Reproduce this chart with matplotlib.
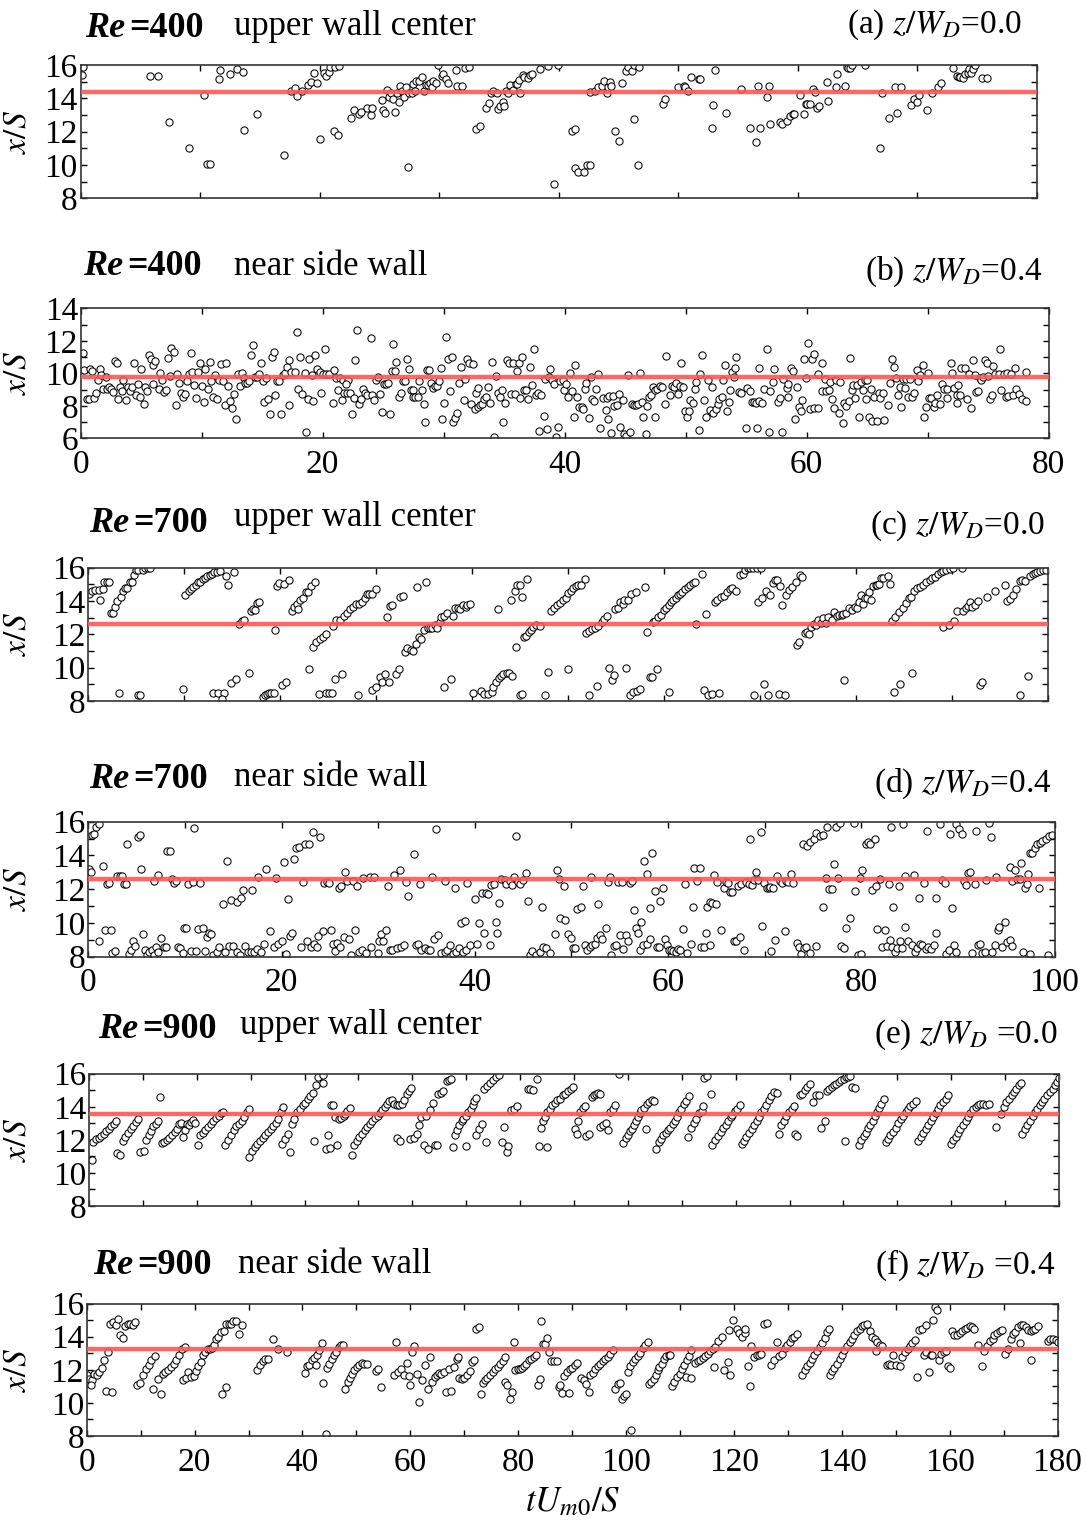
import numpy as np
import matplotlib.pyplot as plt
from matplotlib.ticker import MultipleLocator

plt.rcParams['font.family'] = ['Liberation Serif', 'DejaVu Serif']
plt.rcParams['mathtext.fontset'] = 'stix'

# reattachment position samples: (tU_m0/S, x/S)
pts_a = [(0.1,15.4),(0.2,15.86),(5.8,15.36),(6.45,15.36),(7.37,12.58),(9.1,11.04),(10.3,14.2),(10.6,10.04),(10.8,10.04),(11.55,15.14),(11.7,15.68),(12.5,15.44),(13.1,15.76),(13.6,15.6),(13.7,12.12),(14.8,13.04),(17.0,10.58),(17.6,14.42),(17.9,14.62),(18.1,14.12),(18.55,14.44),(19.0,14.82),(19.3,14.96),(19.5,15.52),(19.8,14.9),(20.05,11.58),(20.4,15.52),(20.5,15.36),(20.75,15.56),(20.9,15.88),(21.3,15.88),(21.6,15.92),(21.2,12.06),(21.5,11.8),(22.6,12.8),(22.9,13.28),(23.3,13.06),(23.5,13.2),(24.0,13.42),(24.3,12.98),(24.4,13.42),
         (25.2,13.88),(25.3,13.28),(25.5,13.12),(25.65,14.52),(25.8,14.06),(26.0,14.34),(26.1,13.94),(26.3,13.2),(26.5,14.34),(26.6,13.8),(26.75,14.74),(26.9,14.44),(27.05,14.1),(27.2,14.68),(27.35,9.86),(27.45,14.3),(27.7,14.34),(27.83,14.84),(28.0,14.44),(28.1,15.06),(28.3,15.06),(28.6,15.3),(28.75,14.46),(28.9,14.8),(29.1,14.82),(29.2,14.9),(29.4,14.68),(29.5,15.06),(29.7,14.9),(29.9,16.0),(30.2,15.36),(30.35,15.44),(30.6,15.14),(30.75,14.9),(31.4,15.68),(31.5,14.76),(31.9,14.76),(32.15,15.84),(32.5,15.9),
         (33.1,12.18),(33.4,12.34),(33.9,13.44),(34.2,13.74),(34.3,14.3),(34.5,14.44),(34.8,14.3),(34.95,13.34),(35.1,13.54),(35.3,13.8),(35.4,13.52),(35.6,14.46),(35.75,14.3),(35.9,14.82),(36.2,14.5),(36.4,14.86),(36.5,14.88),(36.7,15.1),(36.8,14.32),(37.0,15.4),(37.1,15.3),(37.4,15.2),(37.6,15.4),(37.75,15.46),(38.4,15.76),(39.1,15.96),(39.95,16.0),(39.6,8.86),(41.1,12.02),(41.35,12.18),(41.4,9.8),(41.6,9.56),
         (42.1,9.56),(42.4,10.02),(42.6,10.02),(42.65,14.36),(43.0,14.44),(43.3,14.66),(43.6,14.76),(43.8,15.06),(44.0,14.3),(44.1,14.7),(44.3,14.98),(44.4,14.76),(44.7,12.04),(45.0,11.42),(45.3,14.9),(45.6,15.62),(45.8,15.9),(46.1,15.66),(46.3,16.0),(46.7,15.86),(46.3,12.74),(46.6,10.02),(48.7,13.66),(48.9,13.98),(50.0,14.68),(50.45,14.76),(50.6,14.68),(50.8,14.44),(51.1,15.3),(51.7,15.14),(51.85,15.14),(52.8,12.2),(52.9,13.6),(53.1,15.68),(54.0,13.14),(55.25,14.54),(56.0,12.2),(56.5,11.36),(56.8,12.2),(56.65,14.76),(57.6,14.76),(57.4,14.06),(57.7,12.44),
         (58.5,12.6),(58.65,12.48),(59.1,12.66),(59.3,12.96),(59.6,13.08),(59.7,13.06),(60.2,14.22),(60.5,13.06),(60.7,13.66),(60.8,13.66),(61.0,13.66),(61.3,14.54),(61.4,14.36),(61.6,13.42),(61.75,13.52),(62.4,14.98),(62.5,13.82),(63.2,14.68),(63.3,15.44),(63.9,14.76),(64.1,15.9),(64.2,15.84),(64.4,15.84),(64.5,16.0),(65.6,16.0),(66.9,11.04),(67.0,14.3),(67.65,12.82),(68.1,14.68),(68.3,13.12),(68.6,14.68),(69.5,13.58),(69.7,13.98),(70.0,13.8),(70.1,14.22),(70.8,13.28),(71.2,14.3),(71.7,14.68),(72.0,14.9),
         (73.0,15.8),(73.3,15.36),(73.45,15.3),(73.6,15.26),(73.8,15.2),(74.0,15.44),(74.2,15.5),(74.3,15.76),(74.5,15.5),(74.65,15.76),(74.8,16.0),(75.4,15.22),(75.8,15.22)]

pts_b = [(0.17,11.27),(0.3,10.18),(0.5,8.42),(0.7,8.42),(0.77,10.28),(0.96,10.14),(1.1,8.48),(1.27,8.8),(1.4,9.57),(1.57,10.28),(1.7,9.92),(2.07,9.8),(1.87,9.04),(2.18,9.04),(2.37,9.18),(2.5,9.04),(2.67,8.85),(2.87,10.78),(3.0,10.62),(3.1,8.42),(3.25,9.18),(3.4,8.9),(3.5,9.59),(3.77,8.36),(3.9,9.18),(4.08,8.9),(4.2,9.18),(4.4,10.62),(4.57,8.67),(4.74,9.34),(4.88,8.56),(5.0,10.25),(5.2,8.11),(5.35,9.18),(5.5,8.93),(5.62,11.13),(5.8,10.88),(5.98,10.51),(6.14,10.78),(5.98,9.34),(6.44,9.02),(6.58,10.04),(6.72,9.59),(6.9,8.87),(7.05,8.97),(7.2,10.96),(7.35,9.86),(7.5,11.58),(7.69,11.33),(7.85,8.03),(8.0,9.94),(8.15,9.43),(8.3,8.77),(8.46,8.52),(8.6,8.7),(8.8,9.51),(8.93,9.94),(9.1,11.27),(9.23,10.06),(9.4,9.26),(9.56,8.5),(9.7,10.06),(9.85,10.62),(10.0,9.2),(10.17,8.26),(10.3,10.27),(10.5,9.06),(10.66,10.7),(10.8,9.51),(10.94,8.52),(11.13,9.9),(11.27,8.44),(11.43,9.59),(11.6,10.6),(11.76,9.55),(11.9,8.03),(12.04,10.66),(12.2,9.22),(12.34,8.32),(12.5,7.89),(12.7,8.73),(12.86,7.19),(13.0,9.96),(13.17,9.2),(13.33,10.04),(13.47,9.7),(13.6,9.38),(13.75,9.43),(13.9,9.53),(14.08,11.13),(14.27,11.74),(14.4,9.8),(14.57,9.8),(14.74,9.98),(14.88,10.66),(15.04,9.55),(15.18,8.26),(15.5,8.42),(15.34,9.71),(15.65,7.5),(15.8,11.03),(15.98,11.33),(16.1,8.64),(16.25,9.55),(16.4,9.55),(16.58,7.5),(16.75,9.9),(16.9,10.04),(17.05,10.39),(17.25,10.8),(17.4,10.1),(17.7,10.1),(17.25,8.03),(17.85,12.52),(18.0,9.02),(18.3,8.7),(18.76,8.42),(18.15,11.03),(18.5,10.04),(18.6,6.4),(18.9,10.86),(19.2,8.28),(19.4,11.13),(19.1,9.88),(19.56,10.25),(19.75,10.06),(20.05,9.98),(20.3,9.98),(20.5,9.98),(19.9,8.81),(20.2,11.5),
         (20.83,8.2),(20.97,10.18),(21.1,9.73),(21.4,9.73),(21.7,9.59),(22.1,9.59),(21.3,8.97),(21.6,8.34),(21.76,8.81),(22.0,8.81),(22.26,8.81),(21.9,9.34),(22.4,7.5),(22.56,8.5),(22.7,10.8),(22.87,12.67),(23.0,8.11),(23.17,8.42),(23.33,9.02),(23.5,8.81),(23.65,8.67),(24.0,12.2),(24.1,8.67),(24.27,8.34),(24.44,9.59),(24.6,9.8),(24.74,8.73),(24.9,7.64),(25.57,7.5),(25.04,9.34),(25.2,9.34),(25.37,9.43),(25.7,10.16),(26.0,10.16),(25.84,11.8),(26.03,10.72),(26.34,8.52),(26.5,8.77),(26.64,9.53),(26.8,9.53),(26.94,10.88),(27.1,10.27),(27.27,8.97),(27.44,8.97),(27.5,8.52),(27.66,8.52),(27.85,8.52),(28.0,9.55),(28.24,8.97),(28.4,8.11),(28.5,7.03),(28.65,10.18),(28.8,10.18),(28.95,9.43),(29.1,9.08),(29.28,9.22),(29.45,9.22),(29.6,9.53),(29.75,10.33),(29.9,7.19),(30.05,8.2),(30.2,12.24),(30.36,10.86),(30.67,11.03),(30.5,8.9),(30.8,7.03),(30.96,7.27),(31.1,7.56),(31.3,9.43),(31.46,10.39),(31.76,9.65),(31.65,8.36),(31.93,10.86),(32.1,10.62),(32.23,8.11),(32.4,10.57),(32.56,7.78),(32.84,7.95),(32.97,8.03),(33.2,8.13),(33.33,8.44),(33.47,8.56),(32.7,8.81),(32.87,9.1),(33.7,9.18),(33.86,8.2),(34.0,10.7),(34.16,6.1),(34.3,9.86),(34.5,8.77),(34.66,8.52),(34.8,8.97),(34.93,7.03),(35.1,8.2),(35.26,10.8),(35.43,10.62),(35.73,10.62),(35.56,8.73),(35.9,8.73),(36.03,10.16),(36.2,10.62),(36.5,11.03),(36.34,8.5),(36.67,8.97),(36.83,8.97),(37.0,8.42),(37.16,10.39),(37.3,9.26),(37.44,11.5),(37.6,8.64),(37.77,8.81),(38.07,8.64),(37.9,6.47),(38.26,7.4),(38.37,9.65),(38.57,6.6),(38.68,9.78),(38.8,10.24),(38.98,9.59),(39.15,9.34),(39.3,6.1),(39.45,6.72),(39.6,9.51),(39.9,9.59),(39.97,8.97),(40.14,9.34),(40.3,8.52),(40.44,10.04),(40.63,8.92),(40.77,7.33),(40.88,10.51),(41.0,8.56),(41.16,7.95),
         (41.4,7.95),(41.54,7.78),(41.7,9.02),(41.8,9.43),(42.0,7.23),(42.15,9.8),(42.3,8.42),(42.45,8.32),(42.6,9.02),(42.75,9.96),(42.95,6.66),(43.2,8.5),(43.4,7.74),(43.5,8.5),(43.55,7.21),(43.7,8.62),(44.0,8.62),(43.85,6.31),(44.1,7.99),(44.3,8.07),(44.46,8.7),(44.6,6.72),(44.8,8.34),(44.95,6.25),(45.1,6.14),(45.4,6.41),(45.26,9.9),(45.6,8.11),(45.7,8.07),(45.9,8.03),(46.06,8.11),(46.2,10.04),(46.36,8.22),(46.5,7.33),(46.7,6.25),(46.8,7.99),(46.94,8.52),(47.13,8.69),(47.3,9.18),(47.45,8.97),(47.65,9.02),(47.85,9.22),(48.05,9.18),(47.5,7.33),(48.26,8.11),(48.4,11.07),(48.7,8.64),(48.9,9.22),(49.06,9.16),(49.2,9.38),(49.36,8.73),(49.5,9.22),(49.8,9.18),(49.64,10.66),(49.94,7.68),(50.1,7.33),(50.27,7.68),(50.4,8.36),(50.6,8.2),(50.74,9.02),(50.9,9.47),(51.2,9.94),(51.07,6.51),(51.37,11.13),(51.5,8.36),(51.7,7.33),(51.84,9.59),(52.0,7.74),(52.15,9.14),(52.3,7.54),(52.48,7.78),(52.65,8.13),(52.8,8.4),(53.0,8.52),(53.1,9.59),(53.25,10.51),(53.4,7.68),(53.55,8.26),(53.7,8.97),(53.85,10.1),(54.05,10.33),(54.2,11.03),(54.0,9.75),(54.4,8.85),(54.6,8.77),(55.0,6.66),(55.1,9.08),(55.3,8.93),(55.5,8.22),(55.64,8.26),(55.86,8.16),(56.1,8.32),(56.3,8.16),(55.9,6.66),(56.1,10.33),(56.5,9.02),(57.0,8.93),(57.24,9.49),(56.7,11.5),(56.86,6.41),(57.3,10.25),(57.6,8.22),(57.8,8.48),(57.96,6.41),(58.07,9.63),(58.37,9.08),(58.5,9.34),(58.7,10.31),(58.84,10.14),(58.5,8.56),(59.06,7.19),(59.2,9.18),(59.36,7.95),(59.5,7.7),(59.66,8.36),(59.8,10.88),(59.94,9.7),(60.1,11.85),(60.46,10.88),(60.63,11.19),(60.3,7.8),(60.63,7.84),(60.93,7.84),(60.93,9.96),(61.26,10.66),(61.26,8.93),(61.6,8.93),(61.87,8.97),(61.54,9.63),(61.93,9.49),(62.1,8.4),(62.25,7.84),(62.45,9.59),(62.7,7.54),(62.8,9.49),(63.0,6.92),(63.1,8.2),(63.3,7.99),(63.47,8.28),(63.6,10.96),
         (63.75,8.97),(63.88,9.28),(64.04,8.5),(64.2,9.28),(64.5,9.49),(64.82,9.59),(65.0,9.59),(64.35,7.33),(64.7,8.97),(64.88,8.44),(65.18,7.33),(65.45,7.09),(65.8,7.09),(66.4,7.13),(65.34,9.02),(65.6,8.52),(65.95,8.81),(66.1,8.5),(66.3,8.81),(66.75,8.03),(66.9,9.38),(67.05,10.9),(67.2,10.41),(67.4,9.7),(67.55,8.64),(67.7,9.18),(67.82,7.95),(68.0,9.63),(68.13,9.1),(68.26,9.63),(68.56,9.63),(68.4,8.56),(68.75,8.56),(68.9,8.81),(69.1,10.2),(69.2,9.53),(69.4,9.9),(69.6,10.49),(69.7,7.33),(69.86,7.95),(70.05,10.04),(70.16,8.5),(70.3,8.46),(70.5,7.91),(70.63,8.15),(70.8,8.67),(71.0,8.11),(71.2,9.34),(71.4,9.02),(71.6,9.02),(71.57,8.5),(71.9,10.66),(72.0,10.04),(72.2,9.12),(72.4,8.67),(72.55,9.26),(72.67,8.67),(72.4,8.2),(72.8,10.33),(73.1,10.33),(73.25,8.4),(73.44,9.94),(73.77,10.82),(73.93,9.92),(73.6,7.87),(74.0,8.87),(74.18,8.93),(74.3,9.7),(74.46,9.59),(74.6,9.75),(74.73,10.82),(75.04,9.84),(74.9,10.66),(75.18,8.4),(75.37,8.64),(75.4,10.45),(75.6,9.96),(75.97,11.5),(75.9,9.96),(76.1,8.97),(76.33,9.96),(76.6,10.0),(76.9,9.96),(76.47,8.52),(76.66,8.62),(77.07,8.67),(77.35,9.02),(77.57,8.7),(77.85,8.44),(78.1,8.28),(77.2,10.33),(78.1,10.1)]

pts_c = [(0.1,14.42),(0.35,14.6),(0.66,14.64),(1.08,14.68),(1.25,14.04),(1.5,14.7),(1.67,15.12),(1.9,15.12),(2.15,15.12),(2.33,13.26),(2.57,13.26),(2.8,13.66),(3.0,14.0),(3.4,14.26),(3.6,14.6),(3.8,14.8),(3.2,8.5),(4.06,14.8),(4.3,15.12),(4.55,15.12),(4.72,15.58),(4.97,15.86),(5.2,15.86),(5.14,8.36),(5.38,8.36),(5.66,15.86),(5.9,15.96),(6.18,16.0),(6.42,16.0),(9.86,8.74),(10.07,14.36),(10.5,14.6),(10.7,14.7),(10.94,14.82),(11.2,14.96),(11.42,15.12),(11.67,15.16),(11.9,15.3),(12.15,15.36),(12.4,15.52),(12.64,15.56),(12.9,15.62),(13.1,15.72),(13.37,15.76),(13.7,15.82),(13.0,8.46),(13.54,8.5),(14.17,8.5),(13.96,8.12),(14.4,15.52),(14.6,14.98),(15.17,15.76),(14.83,9.06),(15.4,9.34),(15.66,12.62),(16.04,12.82),(16.25,12.86),(16.74,9.66),(17.0,13.42),(17.2,13.52),(17.4,13.46),(17.6,13.86),(17.8,13.96),(18.16,8.26),(18.37,8.38),(18.58,8.44),(18.82,8.5),(19.0,8.5),(19.3,8.5),(19.5,12.24),(19.7,14.9),(19.9,15.06),(20.35,15.0),(20.94,15.28),(20.14,8.98),(20.6,9.12),(21.2,13.4),(21.4,13.66),(21.7,13.82),(21.9,13.52),(22.1,14.04),(22.4,14.2),(22.7,14.52),(22.9,14.52),(22.95,9.9),(23.2,14.92),(23.65,15.16),(23.4,11.22),(23.75,11.52),(24.17,11.74),(24.44,11.82),(24.72,12.0),(24.0,8.4),(24.8,8.5),(25.1,8.5),(25.35,8.5),(25.5,12.52),(25.83,12.86),(26.2,12.86),(25.73,9.34),(26.4,9.6),
         (26.67,13.12),(27.0,13.28),(27.3,13.52),(27.6,13.66),(27.9,13.82),(28.2,13.8),(28.5,13.96),(28.8,14.2),(29.0,14.4),(29.3,14.4),(29.6,14.44),(30.0,14.72),(28.1,8.36),(29.6,8.66),(30.0,8.86),(30.4,9.42),(30.65,9.12),(31.35,9.12),(30.9,9.6),(32.05,9.6),(32.4,9.9),(31.15,13.04),(31.4,13.72),(31.67,13.76),(32.47,14.26),(32.78,14.32),(32.95,10.92),(33.26,11.2),(33.58,11.08),(33.8,11.02),(34.17,11.4),(34.5,11.82),(34.7,11.7),(35.03,12.26),(35.35,12.36),(35.56,12.4),(35.83,12.4),(36.1,12.56),(36.3,12.4),(34.3,14.82),(35.2,15.12),(36.6,12.76),(36.8,13.02),(37.05,13.1),(37.4,13.28),(38.0,13.1),(38.26,13.56),(38.5,13.6),(38.75,13.52),(39.06,13.76),(39.34,13.64),(39.5,13.76),(39.76,13.8),(37.1,8.86),(37.78,9.34),(40.1,8.5),(40.87,8.58),(41.2,8.4),(41.67,8.4),(42.05,8.56),(42.2,8.86),(42.47,9.12),(42.8,9.36),(43.0,9.5),(43.26,9.6),(43.58,9.66),(43.8,9.66),(44.2,9.52),(42.7,13.52),(44.0,14.04),(44.44,14.6),(44.7,14.96),(45.0,14.96),(45.24,14.22),(45.7,15.3),(44.55,11.22),(45.0,8.36),(45.2,8.4),(45.4,11.82),(45.6,11.9),(45.87,12.12),(46.08,12.26),(46.36,12.42),(46.6,12.56),(47.05,12.52),(47.6,8.36),(47.85,9.76),(48.26,13.4),(48.5,13.56),(48.85,13.74),(49.13,13.86),(49.45,14.06),(49.76,14.2),(50.0,14.5),(50.3,14.6),(50.5,14.8),(50.8,14.9),(51.05,14.96),(51.3,14.98),(51.75,15.3),(50.0,9.9),
         (51.9,12.06),(52.2,12.2),(52.5,12.32),(52.8,12.4),(53.13,12.52),(53.48,12.76),(53.76,12.92),(54.07,13.1),(52.2,8.36),(53.0,8.9),(54.28,10.0),(54.52,9.26),(54.77,9.56),(54.9,13.52),(55.2,13.6),(55.4,13.96),(55.67,13.8),(55.84,14.08),(56.0,10.0),(56.2,14.06),(56.43,8.36),(56.78,8.52),(57.13,8.6),(57.47,8.72),(56.54,14.44),(57.1,14.52),(57.99,14.82),(58.17,12.16),(58.5,9.46),(58.8,12.72),(59.07,12.8),(59.4,13.06),(59.66,13.16),(59.94,13.46),(60.18,13.56),(60.46,13.76),(60.7,13.92),(60.95,14.06),(61.2,14.2),(61.43,14.36),(61.64,14.4),(61.9,14.52),(62.16,14.72),(62.44,14.86),(62.68,14.96),(62.96,15.06),(63.2,15.12),(59.28,9.9),(58.7,9.42),(60.53,8.52),(63.3,12.62),(63.97,15.6),(64.14,8.66),(64.6,8.36),(65.04,8.4),(65.74,8.5),(64.35,13.24),(65.3,13.96),(65.56,14.04),(65.9,14.22),(66.22,14.32),(66.5,14.52),(66.85,14.7),(67.1,14.76),(67.54,14.6),(67.9,15.56),(68.2,15.64),(68.45,15.84),(68.7,15.96),(68.97,15.98),(69.3,16.0),(69.7,16.0),(70.05,16.0),(69.35,8.36),(70.4,9.0),(70.84,8.36),(71.92,8.42),(72.58,8.36),(69.8,13.96),(70.15,14.2),(70.6,14.6),(71.0,14.36),(71.3,15.06),(71.57,15.24),(71.78,15.24),(72.12,14.9),(72.33,13.76),(72.75,14.36),(73.03,14.66),(73.3,14.86),(73.7,15.12),(74.2,15.56),(74.38,15.46),
         (73.86,11.36),(74.07,11.52),(74.66,12.06),(74.9,12.12),(75.1,12.0),(75.35,12.46),(75.6,12.6),(75.8,12.56),(76.05,12.86),(76.3,12.66),(76.57,12.96),(76.85,12.66),(77.1,13.02),(77.54,12.86),(77.75,13.32),(78.0,13.12),(78.24,13.16),(78.5,13.16),(78.65,13.2),(79.0,13.26),(79.25,13.56),(79.56,13.46),(79.84,13.64),(80.1,13.6),(80.3,13.96),(80.5,14.36),(80.74,13.8),(80.95,14.16),(81.16,14.2),(81.4,14.52),(81.6,14.06),(81.8,14.88),(82.06,14.96),(82.2,14.98),(82.37,15.0),(82.65,15.4),(82.82,15.36),(83.34,15.52),(83.5,15.0),(78.76,9.26),(83.7,12.8),(84.1,13.02),(84.45,13.36),(84.9,13.6),(85.25,13.9),(85.53,14.16),(85.77,14.26),(86.05,14.6),(86.36,14.76),(86.64,14.82),(86.98,14.96),(87.33,15.12),(87.68,15.26),(87.96,15.36),(88.24,15.46),(88.5,15.6),(88.8,15.72),(89.07,15.8),(89.4,15.86),(89.76,15.92),(90.1,16.0),(91.0,16.0),(83.93,8.56),(84.56,9.04),(85.84,9.66),(89.07,12.46),(89.7,12.56),(90.2,12.8),(90.56,13.4),(91.15,13.42),(91.43,13.56),(91.67,13.72),(91.85,13.96),(92.06,13.66),(92.4,13.76),(92.72,14.0),(92.9,8.96),(93.13,9.12),(93.65,14.26),(94.5,14.6),(95.5,14.96),(95.74,14.02),(96.0,14.12),(96.36,14.36),(96.64,14.72),(97.06,8.36),(97.9,9.52),(97.06,15.2),(97.33,15.24),(97.6,15.22),(98.1,15.52),(98.4,15.6),(98.6,15.66),(98.86,15.76),(99.14,15.8),(99.5,15.86),(99.8,15.86)]

pts_d = [(0.1,13.17),(0.24,13.0),(0.34,15.2),(0.62,15.3),(0.8,15.7),(1.14,15.84),(1.48,13.37),(1.1,8.94),(1.7,9.58),(1.9,12.3),(2.14,12.34),(2.34,9.58),(2.5,8.23),(2.76,8.31),(2.97,12.79),(3.28,12.79),(3.48,12.79),(3.72,12.3),(3.9,12.3),(4.0,14.68),(4.2,8.15),(4.4,8.39),(4.66,8.93),(4.86,8.63),(5.14,15.07),(5.3,15.2),(5.5,13.19),(5.7,9.32),(5.9,8.39),(6.1,8.1),(6.3,8.3),(6.55,8.39),(6.8,8.1),(7.0,8.59),(7.24,8.3),(7.5,9.08),(7.83,8.59),(8.03,8.59),(6.8,12.5),(7.17,12.84),(8.14,14.28),(8.45,14.28),(8.65,12.58),(8.86,12.34),(9.07,12.5),(9.28,8.59),(9.48,8.49),(9.76,8.23),(9.86,9.73),(10.14,9.71),(10.3,12.3),(10.8,12.44),(10.6,8.33),(10.97,15.6),(11.17,8.33),(12.03,8.33),(11.38,9.64),(11.86,9.73),(11.6,12.34),(12.24,9.18),(12.5,9.42),(12.65,9.32),(12.86,8.08),(13.28,8.3),(13.55,8.55),(14.17,8.3),(14.6,8.63),(14.97,8.63),(15.34,8.3),(15.7,8.13),(13.9,11.1),(14.38,13.67),(14.8,11.36),(15.4,11.26),(15.83,11.49),(16.0,11.95),(16.24,8.63),(16.55,8.3),(16.8,8.3),(17.2,8.3),(17.5,8.43),(17.9,8.3),(16.9,11.95),(17.55,12.74),(18.17,8.78),(18.38,13.19),(18.8,9.52),(19.2,8.59),(19.45,12.68),(19.65,8.78),(20.0,8.92),(20.28,13.59),(20.5,8.15),(20.7,11.4),(20.86,9.22),(21.1,9.38),(21.3,13.77),(21.48,14.46),(21.76,14.52),(21.97,8.59),(22.17,12.44),(22.4,14.68),(22.8,14.68),(23.28,15.37),(24.03,15.07),(22.6,8.94),(23.0,8.59),(23.34,8.75),(23.62,8.55),(23.8,9.22),(24.24,9.54),(24.4,12.34),(24.66,12.44),(24.93,12.38),(25.14,9.58),
         (25.28,8.78),(25.5,8.35),(25.76,8.83),(26.03,8.59),(25.93,12.1),(26.2,12.18),(26.45,9.18),(26.97,9.02),(26.55,13.04),(26.8,12.5),(27.4,12.5),(27.24,8.1),(27.62,9.58),(27.86,12.2),(28.03,8.3),(28.28,8.39),(28.7,8.23),(28.45,12.68),(29.3,8.59),(29.14,12.74),(29.55,12.7),(30.0,8.23),(30.1,8.94),(30.34,9.34),(30.52,8.94),(30.8,9.58),(31.03,12.2),(31.2,8.39),(31.48,8.39),(31.9,8.49),(31.62,12.84),(32.24,13.14),(32.4,8.59),(32.7,8.69),(32.86,12.44),(33.1,11.6),(33.72,14.08),(33.9,8.69),(34.17,8.75),(34.48,8.39),(34.83,8.49),(35.17,8.39),(35.4,8.39),(34.3,12.3),(35.6,12.74),(35.8,9.02),(36.2,9.26),(36.03,15.56),(36.55,8.2),(36.9,8.3),(37.14,8.39),(37.4,8.69),(37.76,8.15),(38.1,8.3),(38.38,8.49),(38.8,8.3),(39.14,8.39),(39.48,8.69),(36.9,12.5),(37.93,12.1),(38.55,9.97),(38.97,10.11),(39.2,12.34),(40.0,11.4),(40.45,10.0),(40.7,11.75),(40.93,9.42),(41.14,11.75),(41.38,11.69),(41.55,8.69),(40.24,8.78),(41.72,12.24),(42.0,12.3),(42.17,10.07),(42.34,9.42),(42.5,11.16),(42.76,12.58),(43.1,12.54),(43.28,12.3),(43.62,12.5),(43.86,12.24),(44.03,12.74),(44.24,15.15),(44.48,12.44),(44.66,12.3),(45.0,12.54),(45.28,12.94),(45.5,11.32),(45.7,8.1),(45.97,8.35),(46.38,8.1),(46.8,8.3),(47.07,8.59),(47.41,8.49),(47.83,8.2),(47.0,10.96),(48.28,9.32),(48.52,13.13),(48.7,12.58),(48.86,10.27),(49.3,10.2),(49.66,9.34),(49.93,9.08),(49.28,12.19),(50.17,8.49),(50.6,10.8),
         (50.35,8.49),(51.04,10.96),(51.2,12.19),(51.39,8.69),(51.63,8.39),(51.9,8.55),(52.18,8.69),(52.4,8.78),(52.66,9.08),(52.94,9.28),(53.2,9.02),(52.08,12.74),(52.73,11.12),(53.56,9.73),(53.8,12.44),(53.97,12.74),(54.14,8.1),(54.38,8.63),(54.6,8.69),(54.83,12.44),(55.25,12.44),(55.0,9.28),(55.7,9.28),(55.87,8.92),(55.35,8.43),(56.04,12.34),(56.32,12.5),(56.46,10.76),(56.73,9.73),(56.9,9.42),(57.08,8.39),(57.42,8.69),(57.83,8.75),(58.1,9.02),(57.2,10.07),(57.5,13.69),(57.83,12.9),(58.18,10.9),(58.39,14.16),(58.63,11.89),(58.87,8.59),(59.1,8.59),(59.14,11.32),(59.49,12.05),(59.66,9.02),(59.9,8.69),(60.1,8.39),(60.35,8.39),(60.52,8.35),(60.8,8.3),(61.04,8.43),(61.28,8.39),(61.56,9.67),(61.8,12.3),(62.0,8.2),(62.42,8.78),(62.6,10.92),(62.73,13.23),(63.28,13.23),(63.0,12.5),(63.45,8.59),(63.7,8.59),(63.9,9.42),(64.04,10.96),(64.32,11.26),(64.6,11.2),(64.94,11.12),(64.3,8.69),(64.73,12.84),(65.1,12.44),(65.52,9.58),(65.77,12.1),(65.97,12.44),(66.2,12.38),(66.45,11.85),(66.66,11.85),(66.8,8.92),(67.07,8.92),(67.42,9.18),(67.25,12.2),(67.6,12.3),(67.87,8.39),(68.04,12.44),(68.4,12.3),(68.73,12.24),(68.9,12.54),(69.14,13.04),(69.35,12.54),(69.6,15.4),(68.45,15.0),(69.76,9.81),(69.9,12.34),(70.25,12.1),(70.45,12.05),(70.6,12.15),(70.87,12.1),(70.63,8.35),(71.04,9.0),(71.28,12.79),(71.56,12.5),(71.84,12.38),(72.1,9.54),(72.25,12.5),(72.45,12.44),(72.77,12.9),(72.94,12.38),
         (73.35,8.83),(73.56,8.59),(73.8,8.15),(74.04,8.49),(74.3,8.59),(74.73,8.23),(75.28,8.63),(74.0,14.68),(74.4,14.56),(74.73,14.81),(75.07,14.95),(75.35,15.35),(75.76,15.15),(76.04,15.2),(76.45,15.66),(77.35,15.66),(77.77,15.9),(76.04,10.96),(76.3,12.68),(76.66,11.99),(77.0,11.99),(77.14,13.47),(77.6,12.68),(77.94,8.63),(78.18,8.49),(78.39,9.73),(78.8,10.27),(79.2,15.9),(79.4,11.89),(79.66,8.1),(80.0,8.15),(79.84,12.68),(80.1,13.13),(80.5,14.68),(80.7,14.81),(80.94,14.68),(81.4,15.0),(81.14,11.95),(81.56,12.19),(81.97,12.58),(81.63,9.67),(82.18,8.59),(82.42,9.58),(82.66,8.63),(82.94,8.98),(83.2,8.59),(83.5,8.3),(83.7,8.49),(83.97,8.94),(84.25,8.49),(84.52,9.77),(84.83,8.94),(85.28,8.69),(85.52,8.3),(85.77,8.49),(86.04,8.75),(86.3,8.69),(86.66,8.43),(86.9,8.59),(87.25,8.43),(87.5,8.69),(87.77,9.42),(82.87,12.3),(83.28,10.96),(83.9,12.2),(84.56,12.79),(85.42,12.84),(85.97,11.45),(86.45,12.38),(87.7,11.45),(88.38,12.54),(88.63,12.34),(89.42,10.9),(83.04,15.7),(84.32,15.86),(86.8,15.47),(88.1,15.86),(89.14,15.3),(89.77,15.86),(90.1,15.55),(90.45,15.3),(91.9,15.47),(93.2,15.9),(93.45,15.07),(88.8,8.15),(89.07,8.39),(89.56,8.69),(89.77,8.3),(91.5,8.23),(92.1,8.69),(92.3,8.78),(92.53,8.23),(92.77,8.3),(93.56,8.3),(93.8,8.69),(94.6,8.59),(95.08,8.88),(95.35,8.98),(95.63,8.63),(96.73,8.3),(97.42,8.15),(99.3,8.1),(90.6,12.5),(90.87,12.24),(91.04,12.94),(91.28,13.04),(91.73,12.3),(92.94,12.54),(93.97,12.74),(94.14,9.58),(94.3,9.77),(94.84,10.07),(95.35,13.3),(95.63,12.5),(95.87,13.13),(96.1,12.58),(96.4,12.58),(96.56,13.53),(96.9,12.05),(97.14,12.3),(97.25,12.9),(98.4,12.05),(97.5,14.12),(97.7,14.16),(97.94,14.42),(98.18,14.68),(98.46,14.76),(98.74,14.87),(99.07,14.95),(99.42,15.15),(99.77,15.2)]

pts_e = [(0.5,10.76),(0.8,11.87),(1.3,12.07),(1.8,12.11),(2.3,12.23),(2.72,12.37),(3.2,12.51),(3.65,12.67),(4.13,12.81),(4.64,12.97),(5.0,13.11),(5.13,11.22),(5.75,11.06),(6.25,11.93),(6.74,12.17),(7.24,12.43),(7.73,12.67),(8.16,12.83),(8.66,13.07),(9.1,13.27),(9.46,11.26),(10.2,11.3),(10.6,12.01),(11.07,12.31),(11.44,12.53),(11.94,12.83),(12.37,12.95),(12.8,13.13),(13.17,14.59),(13.5,11.83),(14.0,11.87),(14.4,11.97),(14.9,12.11),(15.4,12.27),(15.9,12.47),(16.4,12.63),(16.76,12.97),(17.07,13.04),(17.38,12.17),(17.75,12.57),(18.2,12.97),(18.55,12.87),(19.0,13.07),(19.36,13.23),(19.73,13.03),(20.16,11.67),(20.6,12.27),(21.1,12.43),(21.6,12.57),(22.08,12.77),(22.57,12.97),(23.07,13.15),(23.56,13.31),(24.06,13.43),(24.55,13.64),(24.92,13.68),(25.3,11.71),(25.85,11.97),(26.35,12.27),(26.84,12.57),(27.33,12.83),(27.83,12.97),(28.3,13.17),(28.82,13.37),(29.3,13.68),(29.62,13.88),
         (29.75,10.96),(30.24,11.3),(30.74,11.56),(31.23,11.77),(31.73,11.91),(32.2,12.11),(32.7,12.27),(33.2,12.47),(33.7,12.67),(34.2,12.83),(34.7,13.03),(35.13,13.27),(35.56,13.71),(35.94,13.98),(35.8,11.75),(36.3,12.07),(36.9,12.37),(37.3,11.26),(37.7,12.97),(38.1,13.27),(38.66,13.68),(39.15,13.88),(39.64,14.08),(40.1,14.24),(40.6,14.45),(41.1,14.65),(41.5,14.85),(42.1,15.33),(42.5,15.8),(43.35,15.45),(43.5,15.9),(41.8,11.93),(44.0,11.42),(44.7,11.5),(44.3,12.27),(44.85,14.12),(45.2,14.08),(45.7,13.37),(46.1,11.71),(46.3,13.27),(46.75,13.31),(47.25,13.43),(47.55,13.58),(47.93,13.72),(48.42,13.92),(48.8,11.1),(49.2,11.67),(49.66,11.91),(50.16,12.17),(50.65,12.37),(51.15,12.57),(51.64,12.77),(52.1,12.97),(52.6,13.11),(53.1,13.31),(53.55,13.43),(54.0,13.64),(54.4,13.78),(54.9,13.98),(55.35,14.18),(55.7,14.32),(56.15,14.38),(56.6,14.18),(57.1,14.12),(57.6,14.12),(58.0,14.18),(58.45,14.38),(58.94,14.79),(59.3,14.93),(59.7,15.13),(57.1,12.11),(57.8,11.91),
         (59.55,12.03),(60.3,12.11),(60.8,12.37),(61.3,12.91),(61.7,13.37),(62.16,11.71),(62.6,13.47),(62.9,11.42),(63.3,13.78),(63.76,14.24),(64.25,11.67),(64.6,11.67),(64.8,14.75),(65.3,14.85),(65.7,14.93),(66.5,15.53),(66.85,15.6),(67.2,15.66),(67.5,11.56),(67.9,12.27),(68.35,12.57),(68.7,12.87),(69.14,13.11),(69.45,13.27),(69.95,13.43),(70.4,13.68),(70.8,13.84),(71.2,14.08),(71.5,14.32),(71.8,14.53),(69.95,11.61),(71.9,12.31),(72.4,12.63),(73.0,12.97),(73.65,11.87),(73.3,15.05),(73.8,15.25),(74.4,15.45),(75.0,15.6),(75.6,15.8),(76.1,15.94),(76.56,11.87),(77.0,12.77),(77.5,11.26),(77.8,11.6),(78.4,13.78),(78.85,13.84),(79.35,14.04),(81.5,15.09),(81.8,15.05),(82.3,14.99),(83.05,15.66),(83.55,11.61),(84.9,11.56),(83.8,12.71),(84.2,13.11),(84.6,13.37),(85.0,13.71),(85.5,13.88),(86.0,14.08),(86.46,14.24),(86.9,14.38),(87.4,14.49),(87.9,14.69),(88.4,14.79),(88.9,14.93),(89.4,15.05),(89.85,15.19),(90.2,12.67),(90.5,12.37),(90.8,13.17),(91.2,13.68),(91.6,13.92),(92.0,14.04),(92.2,12.23),(92.8,12.37),
         (93.26,14.59),(93.7,14.69),(94.06,14.79),(94.5,14.85),(94.8,14.79),(94.9,12.77),(95.4,12.91),(96.0,13.03),(96.4,12.57),(96.65,13.68),(97.15,13.84),(97.6,14.08),(98.4,16.0),(99.1,11.83),(99.6,12.11),(100.0,12.31),(100.4,12.51),(100.7,12.67),(101.1,12.87),(101.5,13.11),(101.85,13.37),(102.2,13.64),(102.5,13.78),(102.96,13.94),(103.5,14.18),(103.96,14.28),(104.4,14.38),(104.8,14.32),(103.3,12.63),(105.2,11.46),(105.7,11.87),(106.2,12.07),(106.55,12.27),(107.0,12.41),(107.5,12.57),(107.9,12.73),(108.3,12.93),(108.7,13.17),(109.15,13.41),(109.5,13.68),(109.9,13.88),(110.4,14.14),(110.75,14.34),(111.25,14.63),(111.2,12.17),(111.7,12.71),(112.24,13.03),(112.7,13.27),(113.2,13.64),(113.66,13.72),(114.0,14.04),(114.1,15.72),(114.6,15.88),(115.5,14.79),(115.7,11.71),(116.2,11.97),(116.7,12.23),(117.2,12.47),(117.7,12.71),(118.2,12.91),(118.6,13.17),(119.05,13.37),(119.4,13.51),(119.85,13.72),(120.3,13.88),(120.8,14.08),
         (121.1,11.77),(121.6,11.91),(122.0,12.17),(122.5,12.43),(122.95,12.67),(123.4,12.91),(123.9,13.17),(124.3,13.37),(124.7,13.68),(125.2,13.88),(125.7,14.12),(126.2,14.38),(126.6,14.65),(127.1,14.89),(127.6,14.85),(128.1,12.37),(128.5,12.87),(128.95,13.17),(129.4,13.43),(129.9,13.68),(130.4,13.88),(130.8,14.04),(131.0,12.37),(131.4,12.23),(131.9,14.69),(132.4,14.79),(132.8,14.99),(133.3,15.19),(133.8,15.4),(134.4,14.28),(134.9,14.69),(135.5,14.69),(135.9,12.71),(136.5,13.17),(136.9,14.93),(137.4,15.09),(137.8,15.19),(138.2,15.29),(138.7,15.4),(139.2,15.5),(139.6,15.6),(140.1,15.66),(140.4,15.8),(140.9,15.8),(141.3,15.86),(141.6,15.19),(142.2,15.13),(140.3,11.91),(142.9,11.71),(143.35,11.97),(143.8,12.23),(144.2,12.43),(144.6,12.71),(145.0,12.91),(145.4,13.17),(145.8,13.43),(146.25,13.68),(146.6,13.92),(147.05,14.18),(147.5,14.49),
         (147.9,11.85),(148.3,12.05),(148.7,12.29),(149.2,12.49),(149.7,12.73),(150.1,12.99),(150.6,13.25),(151.1,13.45),(151.6,13.69),(152.0,13.89),(152.4,14.05),(152.9,14.19),(153.4,14.33),(153.85,11.95),(154.3,12.15),(154.8,12.41),(155.3,12.65),(155.7,12.89),(156.2,13.15),(156.6,13.41),(157.1,13.65),(157.6,13.85),(158.0,14.09),(158.5,14.29),(159.0,14.45),(159.4,14.7),(159.9,11.77),(160.4,11.97),(160.85,12.17),(161.3,12.43),(161.7,12.67),(162.2,12.91),(162.7,13.11),(163.1,13.37),(163.55,13.64),(164.0,13.84),(164.6,13.98),(165.0,14.12),(165.4,14.18),(165.9,14.18),(166.4,14.08),(167.0,14.18),(168.4,12.79),(169.3,13.54),(169.8,13.98),(170.25,14.28),(170.75,14.49),(171.2,14.69),(171.7,14.89),(172.1,15.09),(172.6,15.29),(173.0,15.45),(173.2,12.37),(173.65,12.67),(174.1,12.91),(174.6,13.17),(175.1,13.43),(175.5,13.68),(175.9,13.88),(176.4,14.08),(176.9,14.28),(177.3,14.49),(177.8,14.69),(178.3,14.89),(178.8,15.09),(179.2,15.29),(179.65,15.5),(180.0,15.74)]

pts_f = [(0.1,11.7),(0.5,11.42),(0.9,11.36),(1.36,11.76),(1.86,11.7),(2.35,11.86),(2.8,12.1),(0.74,11.1),(3.3,12.57),(3.6,10.71),(4.76,10.65),(4.0,13.07),(4.33,14.74),(4.95,14.88),(5.44,14.68),(5.87,15.08),(6.18,14.08),(6.8,13.92),(7.17,14.64),(7.6,14.74),(8.04,14.74),(8.53,14.68),(8.97,14.88),(9.4,11.1),(9.9,11.22),(10.5,11.66),(11.0,12.06),(11.5,12.26),(11.94,12.57),(12.68,12.83),(12.37,10.86),(13.3,11.42),(13.8,10.55),(14.16,11.76),(14.6,11.86),(15.15,11.96),(15.65,12.16),(16.1,12.36),(16.57,12.57),(17.07,12.87),(17.7,13.27),(18.2,13.37),(17.8,11.36),(18.43,11.5),(18.86,11.86),(19.3,11.56),(19.9,11.62),(20.3,11.9),(20.7,12.22),(21.15,12.46),(21.5,12.9),(21.97,13.07),(22.4,13.23),(22.77,13.23),(23.2,13.31),(23.64,13.47),(24.0,13.83),(24.43,13.97),(24.9,14.28),(25.4,14.32),(25.8,14.74),(26.3,14.74),(26.7,14.74),(27.2,14.92),(27.7,14.92),(25.05,10.55),(25.8,10.96),(28.3,14.18),(28.76,14.68),(31.66,11.96),(32.16,12.26),(32.65,12.5),(33.1,12.63),(33.6,12.63),(34.5,13.83),(35.56,13.27),(37.1,13.07),
         (40.4,11.8),(40.8,12.22),(41.3,12.3),(41.74,12.57),(42.18,12.7),(42.67,12.9),(43.0,13.17),(43.6,13.63),(42.55,12.3),(43.9,11.2),(44.3,8.1),(44.5,12.1),(45.0,12.36),(45.45,12.67),(45.77,12.9),(46.26,13.1),(46.7,13.37),(47.12,13.5),(47.6,13.5),(47.9,10.82),(48.36,11.26),(48.73,11.5),(49.17,11.76),(49.6,11.96),(50.1,12.16),(50.5,12.3),(51.0,12.42),(51.45,12.36),(51.95,12.36),(53.7,11.9),(54.1,12.02),(54.55,10.96),(57.0,11.66),(57.4,13.7),(57.8,11.86),(58.25,12.02),(58.75,11.7),(59.4,12.43),(59.7,11.62),(60.0,11.1),(60.3,13.07),(60.7,13.43),(61.2,11.76),(61.7,10.08),(62.15,11.36),(62.77,12.26),(63.2,10.86),(63.6,12.77),(64.0,11.26),(64.5,11.56),(64.9,11.66),(65.3,11.82),(65.77,11.76),(66.25,11.86),(66.7,10.65),(67.2,12.06),(67.6,10.69),(68.1,12.16),(68.6,12.67),(68.8,12.77),(69.1,11.5),(69.6,11.42),(70.0,11.5),(70.5,11.66),(71.0,11.9),(71.4,12.46),(71.85,12.57),(72.2,14.44),(72.66,14.58),(73.1,10.55),
         (73.5,11.2),(73.9,11.36),(74.3,11.5),(74.83,11.66),(75.3,11.86),(75.76,12.02),(76.2,12.16),(76.7,12.36),(77.2,12.5),(77.6,12.77),(77.6,11.26),(78.0,11.06),(78.4,10.25),(78.85,10.65),(79.16,13.67),(79.5,11.96),(79.9,12.02),(80.27,12.02),(80.7,12.1),(81.14,12.22),(81.5,12.36),(81.94,12.57),(82.37,12.67),(82.87,12.77),(83.36,12.9),(83.6,11.1),(84.0,11.42),(84.3,14.92),(84.6,13.57),(85.03,13.57),(85.35,13.9),(85.65,13.07),(86.1,12.5),(86.6,12.5),(87.2,12.5),(87.5,10.96),(87.8,11.06),(88.1,10.61),(89.4,10.61),(88.5,11.62),(89.05,11.86),(89.55,12.02),(90.0,12.1),(90.5,12.26),(90.95,12.43),
         (91.65,11.5),(92.14,11.36),(92.63,11.16),(93.07,10.65),(93.4,11.66),(93.87,11.82),(94.3,12.02),(94.74,12.22),(95.23,12.36),(95.66,12.5),(96.1,12.67),(96.6,12.77),(97.1,12.97),(97.6,13.17),(98.0,10.86),(98.45,11.16),(98.8,11.22),(99.25,10.25),(99.7,10.41),(100.05,10.55),(100.9,8.34),(100.4,11.86),(100.8,12.22),(101.3,12.46),(101.7,12.67),(102.15,12.83),(102.65,13.03),(103.1,13.31),(103.6,13.47),(104.0,13.67),(104.2,11.16),(104.6,11.26),(105.1,11.42),(105.5,11.7),(105.9,11.96),(106.2,12.16),(106.7,12.36),(107.0,12.67),(107.5,12.83),(107.9,12.87),(108.2,12.87),(108.5,11.02),(108.96,11.26),(109.45,11.56),(109.95,11.76),(110.4,12.06),(110.8,12.3),(111.3,12.57),(111.7,12.83),(112.05,13.17),(111.2,11.56),(112.1,11.5),(112.85,12.43),(113.3,12.5),(113.8,12.57),(114.3,12.7),(114.7,12.83),(115.15,12.97),(115.6,13.11),(116.1,13.27),(116.55,13.37),(116.4,12.16),(118.1,11.96),(118.85,12.46),(119.35,11.7),(117.0,13.73),(117.8,13.97),(119.0,14.38),(119.85,14.98),(120.5,14.44),(120.9,14.24),(121.5,13.97),(122.0,14.24),(122.1,14.44),(122.55,12.22),(122.9,11.02),
         (123.2,13.41),(123.7,12.77),(124.2,12.87),(124.6,12.9),(125.0,12.97),(125.65,14.74),(126.15,14.84),(126.8,12.3),(127.4,12.56),(127.9,13.7),(128.3,12.83),(128.9,12.97),(129.4,13.31),(129.9,13.51),(130.4,13.67),(130.8,13.91),(131.2,13.97),(131.7,14.18),(132.6,11.7),(133.1,11.96),(133.6,12.22),(134.1,12.42),(134.5,12.67),(134.9,12.9),(135.4,13.11),(135.9,13.37),(136.35,13.63),(136.8,13.91),(137.3,14.28),(137.6,14.48),(137.8,11.7),(138.2,11.9),(138.65,12.1),(139.1,12.36),(139.6,12.67),(140.1,12.9),(140.5,13.17),(141.0,13.43),(141.5,13.67),(141.9,13.87),(142.35,14.08),(142.8,14.32),(143.3,14.48),(143.8,14.64),(144.2,14.72),(144.7,14.78),(145.2,14.32),(145.6,13.97),(146.1,13.87),(146.6,13.7),(147.05,13.5),(147.5,13.41),(146.4,13.11),(148.3,12.3),(148.7,12.36),(149.2,12.3),(149.5,12.9),(150.0,12.26),(150.8,12.22),(151.2,12.77),(151.8,13.07),(152.25,13.23),(152.6,13.43),(153.05,13.63),(153.5,13.77),(154.0,11.56),(154.3,14.38),(154.9,14.44),(155.7,14.68),(156.95,14.98),
         (155.2,12.9),(155.7,13.07),(156.15,11.86),(156.5,12.87),(156.8,12.9),(157.2,15.79),(157.7,15.59),(158.0,12.57),(158.4,12.97),(158.9,13.07),(159.4,13.11),(159.7,12.22),(160.05,12.1),(160.5,14.32),(160.9,14.08),(161.4,14.12),(161.9,14.24),(162.3,14.32),(162.8,14.44),(163.25,14.52),(163.8,14.64),(164.2,14.58),(164.6,14.44),(165.2,13.51),(166.0,12.22),(166.35,13.11),(166.97,13.43),(167.5,13.71),(167.95,13.87),(168.3,14.08),(168.8,14.24),(169.3,14.32),(169.75,14.38),(170.2,12.97),(170.8,13.23),(171.3,13.87),(171.8,14.18),(172.2,14.28),(172.7,14.58),(173.2,14.68),(173.6,14.72),(174.1,14.58),(174.5,14.38),(175.0,14.32),(175.5,14.38),(175.9,14.44),(176.4,14.64),(173.0,13.63),(175.0,12.57),(178.2,13.71),(178.7,13.83),(179.2,13.87),(179.8,13.77),(180.0,13.67)]

# time-averaged reattachment length per case
mean_x = [14.35, 9.75, 12.62, 12.6, 13.55, 13.25]

re_nums = ['400', '400', '700', '700', '900', '900']
locations = ['upper wall center', 'near side wall'] * 3
letters = ['a', 'b', 'c', 'd', 'e', 'f']
zw = ['0.0', '0.4', '0.0', '0.4', '0.0', '0.4']

t_max = [80, 80, 100, 100, 180, 180]
y_lims = [(8, 16), (6, 14), (8, 16), (8, 16), (8, 16), (8, 16)]

W, H = 1087, 1520
fig = plt.figure(figsize=(W / 100, H / 100), dpi=100)

# axes boxes in pixels: left, top, right, bottom
boxes = [(80.5, 65, 1037, 198.3),
         (80.7, 308.3, 1048.5, 438.3),
         (88.3, 567.7, 1048, 701),
         (88.3, 821.7, 1054.5, 956.7),
         (89, 1073.7, 1059, 1206),
         (86.7, 1303.5, 1057.5, 1436)]

# title positions in pixels: Re x, baseline, location x, baseline, right label x, baseline
title_pos = [(85, 37, 234, 35, 1022, 33),
             (83, 275, 234, 275, 1043, 280),
             (89, 532, 234, 526, 1045, 534),
             (89, 788, 234, 786, 1052, 792),
             (98, 1038, 240, 1034, 1057, 1043),
             (93, 1274, 238, 1273, 1055, 1274)]

show_xlabels = [False, True, False, True, False, True]
all_pts = [pts_a, pts_b, pts_c, pts_d, pts_e, pts_f]


def ftext(x, y, s, **kw):
    fig.text(x / W, 1 - y / H, s, va='baseline', **kw)


for i in range(6):
    l, t, r, b = boxes[i]
    ax = fig.add_axes([l / W, 1 - b / H, (r - l) / W, (b - t) / H])
    tt, xx = np.array(all_pts[i]).T
    ax.plot(tt, xx, 'o', ms=5.2, mfc='white', mec='black', mew=0.75, zorder=2)
    ax.axhline(mean_x[i], color='#ff5555', lw=3.2, alpha=0.9, zorder=3)

    ax.set_xlim(0, t_max[i])
    ax.set_ylim(*y_lims[i])
    ax.xaxis.set_major_locator(MultipleLocator(20))
    ax.xaxis.set_minor_locator(MultipleLocator(10))
    ax.yaxis.set_major_locator(MultipleLocator(2))
    ax.yaxis.set_minor_locator(MultipleLocator(1))
    ax.tick_params(which='both', direction='in', top=True, right=True,
                   length=4.5, width=1, labelsize=24)
    ax.tick_params(axis='y', pad=2)
    ax.tick_params(axis='x', pad=8, labelbottom=show_xlabels[i])
    for sp in ax.spines.values():
        sp.set_linewidth(1.2)
        sp.set_color('#333333')

    ax.set_ylabel('$x/S$', fontsize=24)
    ax.yaxis.set_label_coords((33 - l) / (r - l), 0.5)

    rx, rb, lx, lb, zx, zb = title_pos[i]
    ftext(rx, rb, 'Re', fontsize=26, fontweight='bold', fontstyle='italic')
    ftext(rx + 44, rb, '=' + re_nums[i], fontsize=26, fontweight='bold')
    ftext(lx, lb, locations[i], fontsize=25)
    gap = ' ' if i >= 4 else ''
    ftext(zx, zb, '(%s) $z/W_D$%s=%s' % (letters[i], gap, zw[i]), fontsize=24, ha='right')

fig.text(573 / W, 1 - 1503 / H, '$tU_{m0}/S$', fontsize=25, ha='center', va='center')

fig.savefig('out.png', dpi=100)
